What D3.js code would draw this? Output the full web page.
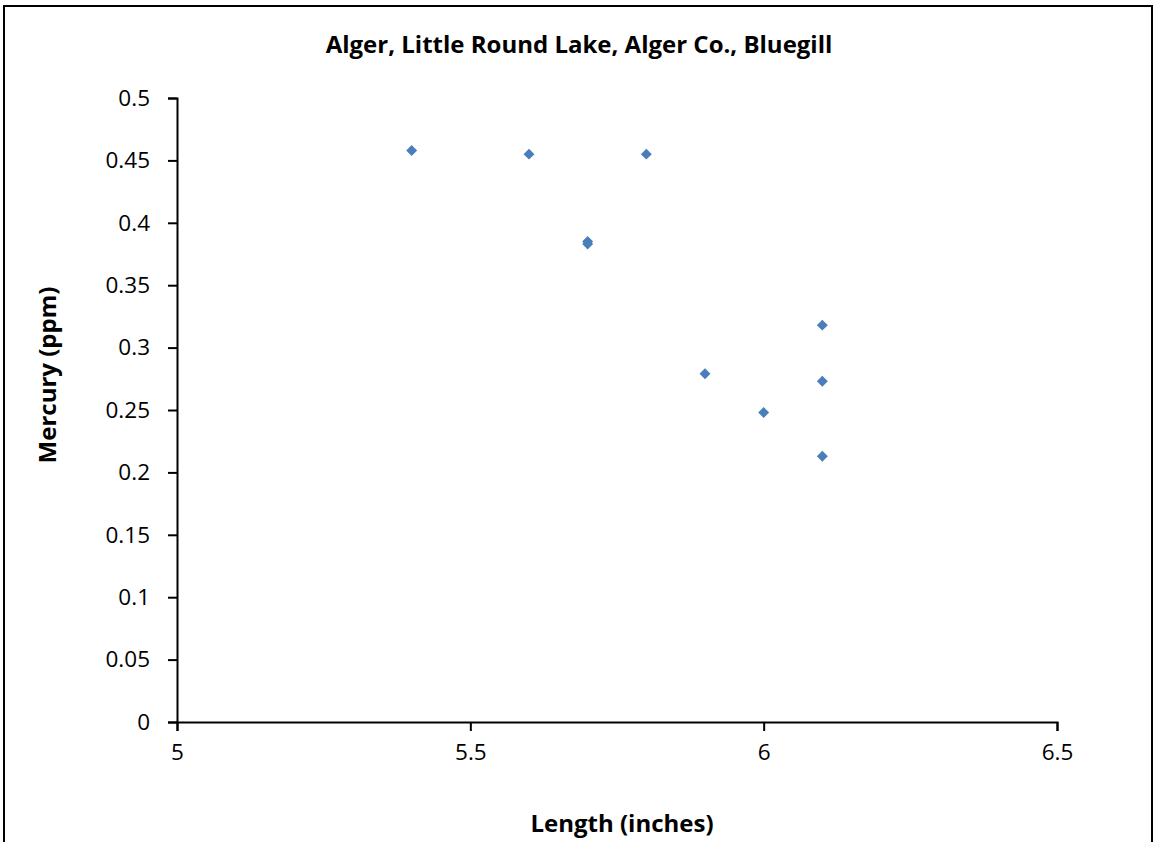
<!DOCTYPE html>
<html>
<head>
<meta charset="utf-8">
<script src="https://cdn.jsdelivr.net/npm/d3@7"></script>
<style>
  body { margin: 0; background: #fff; }
  svg text { font-family: "Open Sans", "Liberation Sans", sans-serif; fill: #000; }
</style>
</head>
<body>
<script>
// Data
var lengths = [5.4, 5.6, 5.8, 5.7, 5.7, 5.9, 6.0, 6.1, 6.1, 6.1];
var mercury = [0.458, 0.455, 0.455, 0.385, 0.383, 0.279, 0.248, 0.318, 0.273, 0.213];
var xTicks = [5, 5.5, 6, 6.5];
var yTicks = [0, 0.05, 0.1, 0.15, 0.2, 0.25, 0.3, 0.35, 0.4, 0.45, 0.5];

var W = 1156, H = 842;
var margin = {top: 98, right: 99, bottom: 120, left: 177};

var svg = d3.select("body").append("svg")
  .attr("width", W)
  .attr("height", H);

// Outer border
svg.append("rect")
  .attr("x", 4).attr("y", 6)
  .attr("width", 1148).attr("height", 850)
  .attr("fill", "none")
  .attr("stroke", "#000")
  .attr("stroke-width", 2);

var x = d3.scaleLinear().domain([5, 6.5]).range([margin.left, W - margin.right]);
var y = d3.scaleLinear().domain([0, 0.5]).range([H - margin.bottom, margin.top]);

// Axes
var xAxis = svg.append("g")
  .attr("transform", "translate(0," + y(0) + ")")
  .call(d3.axisBottom(x).tickValues(xTicks).tickSize(9).tickPadding(13).tickFormat(d3.format("")));
var yAxis = svg.append("g")
  .attr("transform", "translate(" + x(5) + ",0)")
  .call(d3.axisLeft(y).tickValues(yTicks).tickSize(9).tickPadding(18).tickFormat(d3.format("")));

[xAxis, yAxis].forEach(function(g) {
  g.select(".domain").attr("stroke", "#000").attr("stroke-width", 2);
  g.selectAll(".tick line").attr("stroke", "#000").attr("stroke-width", 2);
  g.selectAll(".tick text").attr("font-size", "22.5px").attr("font-family", "Open Sans, sans-serif").attr("fill", "#000");
});

// Points (diamonds)
var diamond = d3.symbol().type(d3.symbolDiamond2).size(76);
svg.selectAll(".pt")
  .data(lengths.map(function(d, i) { return [d, mercury[i]]; }))
  .enter()
  .append("path")
  .attr("class", "pt")
  .attr("d", diamond)
  .attr("transform", function(d) { return "translate(" + x(d[0]) + "," + y(d[1]) + ")"; })
  .attr("fill", "#4a7ebb");

// Title and axis labels
svg.append("text")
  .attr("x", 579).attr("y", 53)
  .attr("text-anchor", "middle")
  .attr("font-size", "24px")
  .attr("font-weight", "bold")
  .text("Alger, Little Round Lake, Alger Co., Bluegill");

svg.append("text")
  .attr("x", 622).attr("y", 832)
  .attr("text-anchor", "middle")
  .attr("font-size", "24px")
  .attr("font-weight", "bold")
  .text("Length (inches)");

svg.append("text")
  .attr("transform", "translate(56,375) rotate(-90)")
  .attr("text-anchor", "middle")
  .attr("font-size", "24px")
  .attr("font-weight", "bold")
  .text("Mercury (ppm)");
</script>
</body>
</html>
